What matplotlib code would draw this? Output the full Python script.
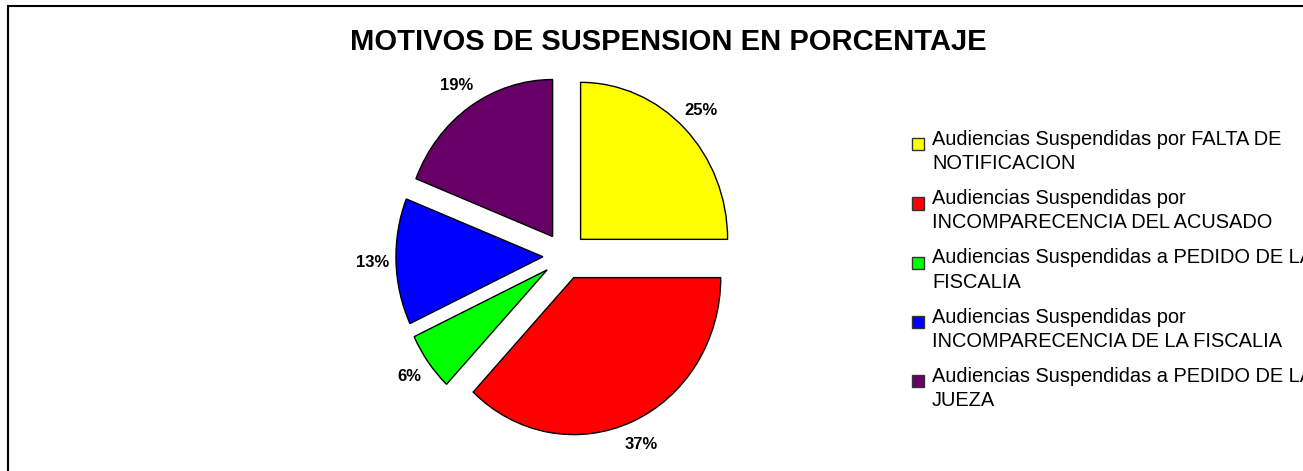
import matplotlib.pyplot as plt
from matplotlib.patches import Rectangle
from matplotlib.legend_handler import HandlerPatch

categorias = [
    "Audiencias Suspendidas por FALTA DE\nNOTIFICACION",
    "Audiencias Suspendidas por\nINCOMPARECENCIA DEL ACUSADO",
    "Audiencias Suspendidas a PEDIDO DE LA\nFISCALIA",
    "Audiencias Suspendidas por\nINCOMPARECENCIA DE LA FISCALIA",
    "Audiencias Suspendidas a PEDIDO DE LA\nJUEZA",
]
porcentajes = [25, 37, 6, 13, 19]
colores = ["#FFFF00", "#FF0000", "#00FF00", "#0000FF", "#660066"]
titulo = "MOTIVOS DE SUSPENSION EN PORCENTAJE"

plt.rcParams['font.family'] = ['Liberation Sans', 'DejaVu Sans']

W, H = 1303, 471
fig = plt.figure(figsize=(W / 100, H / 100), dpi=100)

# centro y radios del pie en pixeles
cx, cy = 565, 256
rx, ry = 147, 157
half_w, half_h = 250, 215
ax = fig.add_axes([(cx - half_w) / W, (H - cy - half_h) / H, 2 * half_w / W, 2 * half_h / H])
wedges, texts, autotexts = ax.pie(
    porcentajes, colors=colores, startangle=90, counterclock=False,
    explode=[0.15] * len(porcentajes), autopct='%1.0f%%', pctdistance=1.16,
    wedgeprops=dict(edgecolor='black', linewidth=1.0),
    textprops=dict(fontsize=12, fontweight='bold', color='black'))
ax.set_aspect('auto')
ax.set_xlim(-half_w / rx, half_w / rx)
ax.set_ylim(-half_h / ry, half_h / ry)
ax.axis('off')

fig.text(668 / W, 1 - 42 / H, titulo, ha='center', va='center',
         fontsize=21, fontweight='bold')


def top_square(legend, orig_handle, xdescent, ydescent, width, height, fontsize):
    s = 8.8
    return Rectangle((-xdescent, -ydescent + height - s - 1.5), s, s)


handles = [Rectangle((0, 0), 1, 1, facecolor=c, edgecolor='#333333', linewidth=1) for c in colores]
# la leyenda queda cortada en el borde derecho, igual que en el original
leg = fig.legend(handles, categorias, loc='upper left',
                 bbox_to_anchor=(912 / W, 1 - 130 / H), frameon=False,
                 fontsize=14.4, handlelength=0.61, handleheight=2.2, handletextpad=0.4,
                 labelspacing=0.8, borderpad=0, borderaxespad=0,
                 handler_map={Rectangle: HandlerPatch(patch_func=top_square)})
for t in leg.get_texts():
    t.set_linespacing(1.35)

# marco exterior del grafico
fig.add_artist(Rectangle((7.5 / W, -0.2), 2, 1.2 - 5.5 / H, transform=fig.transFigure,
                         fill=False, edgecolor='black', linewidth=1.5))

fig.savefig('out.png', dpi=100)
